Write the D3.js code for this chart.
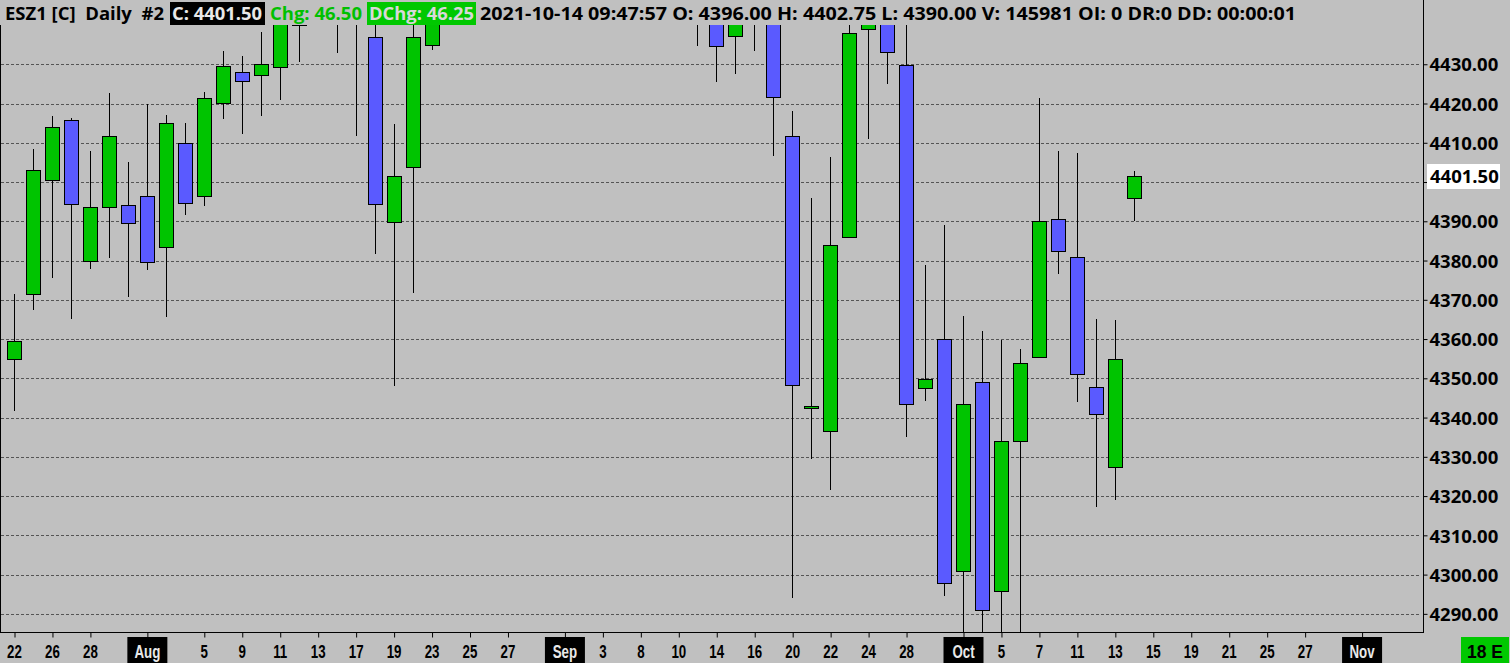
<!DOCTYPE html>
<html>
<head>
<meta charset="utf-8">
<script src="https://cdn.jsdelivr.net/npm/d3@7"></script>
<style>
  html, body { margin: 0; padding: 0; background: #c0c0c0; overflow: hidden; }
  svg { display: block; }
  .hdr { font-family: "Open Sans", "Noto Sans", sans-serif; font-weight: 700; font-size: 18px; white-space: pre; }
  .ylab { font-family: "Open Sans", "Noto Sans", sans-serif; font-weight: 700; font-size: 18.5px; }
  .xlab { font-family: "Liberation Sans", Arial, sans-serif; font-weight: 700; font-size: 18.5px; }
</style>
</head>
<body>
<svg id="chart" width="1510" height="663"></svg>
<script>
// trading days shown on the time axis (ESZ1 daily)
const dates = [
  "2021-07-22", "2021-07-23", "2021-07-26", "2021-07-27", "2021-07-28", "2021-07-29", "2021-07-30",
  "2021-08-02", "2021-08-03", "2021-08-04", "2021-08-05", "2021-08-06", "2021-08-09", "2021-08-10",
  "2021-08-11", "2021-08-12", "2021-08-13", "2021-08-16", "2021-08-17", "2021-08-18", "2021-08-19",
  "2021-08-20", "2021-08-23", "2021-08-24", "2021-08-25", "2021-08-26", "2021-08-27", "2021-08-30",
  "2021-08-31", "2021-09-01", "2021-09-02", "2021-09-03", "2021-09-07", "2021-09-08", "2021-09-09",
  "2021-09-10", "2021-09-13", "2021-09-14", "2021-09-15", "2021-09-16", "2021-09-17", "2021-09-20",
  "2021-09-21", "2021-09-22", "2021-09-23", "2021-09-24", "2021-09-27", "2021-09-28", "2021-09-29",
  "2021-09-30", "2021-10-01", "2021-10-04", "2021-10-05", "2021-10-06", "2021-10-07", "2021-10-08",
  "2021-10-11", "2021-10-12", "2021-10-13", "2021-10-14", "2021-10-15", "2021-10-18", "2021-10-19",
  "2021-10-20", "2021-10-21", "2021-10-22", "2021-10-25", "2021-10-26", "2021-10-27", "2021-10-28",
  "2021-10-29", "2021-11-01", "2021-11-02", "2021-11-03", "2021-11-04"
];

// OHLC, one value per bar from 2021-07-22 to 2021-10-14
const opens = [
  4355.0, 4371.5, 4400.5, 4415.75, 4380.0, 4393.75, 4394.25, 4396.5, 4383.5, 4410.0,
  4396.5, 4420.25, 4428.0, 4427.25, 4429.25, 4440.0, 4451.0, 4458.0, 4466.0, 4437.0,
  4389.75, 4403.75, 4435.0, 4469.0, 4474.0, 4484.0, 4459.0, 4498.0, 4520.0, 4516.0,
  4517.0, 4527.0, 4529.0, 4515.0, 4510.0, 4487.0, 4452.0, 4456.0, 4437.25, 4462.0,
  4458.0, 4411.75, 4342.5, 4336.5, 4386.0, 4439.0, 4444.0, 4429.75, 4347.5, 4360.0,
  4301.0, 4349.0, 4295.75, 4334.0, 4355.5, 4390.5, 4381.0, 4347.75, 4327.5, 4396.0
];
const highs = [
  4371.5, 4408.5, 4416.75, 4416.25, 4408.0, 4422.75, 4405.0, 4420.0, 4417.0, 4415.0,
  4423.0, 4433.5, 4432.0, 4438.25, 4446.0, 4453.0, 4459.0, 4468.0, 4467.0, 4447.0,
  4414.75, 4442.0, 4472.0, 4480.0, 4486.0, 4487.0, 4503.0, 4525.0, 4527.0, 4532.0,
  4535.0, 4537.0, 4540.0, 4518.0, 4520.0, 4508.0, 4475.0, 4468.0, 4466.0, 4468.0,
  4460.0, 4418.0, 4396.0, 4406.5, 4442.0, 4446.0, 4452.0, 4442.0, 4378.75, 4389.0,
  4365.75, 4362.0, 4359.75, 4357.5, 4421.5, 4408.0, 4407.5, 4365.0, 4364.75, 4402.75
];
const lows = [
  4341.75, 4367.5, 4375.5, 4365.0, 4377.75, 4380.75, 4370.75, 4377.5, 4365.5, 4391.5,
  4394.0, 4416.0, 4412.25, 4416.75, 4421.0, 4430.5, 4446.0, 4432.75, 4411.75, 4381.75,
  4348.0, 4371.75, 4433.75, 4462.0, 4468.0, 4455.0, 4452.0, 4495.0, 4510.0, 4512.0,
  4513.0, 4514.0, 4510.0, 4492.0, 4484.0, 4450.0, 4434.75, 4425.5, 4427.5, 4433.5,
  4406.75, 4294.0, 4329.5, 4321.5, 4386.0, 4411.0, 4425.0, 4335.0, 4344.25, 4294.5,
  4280.0, 4283.0, 4280.0, 4281.0, 4355.25, 4376.5, 4344.0, 4317.25, 4319.0, 4390.0
];
const closes = [
  4359.5, 4403.0, 4414.0, 4394.5, 4393.75, 4411.75, 4389.5, 4379.75, 4415.0, 4394.75,
  4421.5, 4429.5, 4425.75, 4430.0, 4443.0, 4451.0, 4458.0, 4466.0, 4441.0, 4394.5,
  4401.5, 4437.0, 4469.0, 4474.0, 4484.0, 4458.0, 4498.0, 4520.0, 4516.0, 4517.0,
  4527.0, 4529.0, 4516.0, 4510.0, 4486.0, 4452.0, 4455.0, 4434.75, 4463.0, 4459.0,
  4421.75, 4348.25, 4343.0, 4384.0, 4438.0, 4443.0, 4433.0, 4343.5, 4349.75, 4297.75,
  4343.5, 4291.0, 4334.0, 4354.0, 4390.0, 4382.5, 4351.0, 4341.0, 4355.0, 4401.5
];

// axis ticks
const yTicks = [4290, 4300, 4310, 4320, 4330, 4340, 4350, 4360, 4370, 4380, 4390, 4400, 4410, 4420, 4430];
const xTickDates = [
  "2021-07-22", "2021-07-26", "2021-07-28", "2021-08-02", "2021-08-05", "2021-08-09", "2021-08-11",
  "2021-08-13", "2021-08-17", "2021-08-19", "2021-08-23", "2021-08-25", "2021-08-27", "2021-09-01",
  "2021-09-03", "2021-09-08", "2021-09-10", "2021-09-14", "2021-09-16", "2021-09-20", "2021-09-22",
  "2021-09-24", "2021-09-28", "2021-10-01", "2021-10-05", "2021-10-07", "2021-10-11", "2021-10-13",
  "2021-10-15", "2021-10-19", "2021-10-21", "2021-10-25", "2021-10-27", "2021-11-01"
];
const xTickLabels = [
  "22", "26", "28", "Aug", "5", "9", "11", "13", "17", "19", "23", "25", "27", "Sep",
  "3", "8", "10", "14", "16", "20", "22", "24", "28", "Oct", "5", "7", "11", "13",
  "15", "19", "21", "25", "27", "Nov"
];

// header line pieces
const symbolText = "ESZ1 [C]  Daily  #2";
const closeText = "C: 4401.50";
const chgText = "Chg: 46.50";
const dchgText = "DChg: 46.25";
const infoText = "2021-10-14 09:47:57 O: 4396.00 H: 4402.75 L: 4390.00 V: 145981 OI: 0 DR:0 DD: 00:00:01";
const lastPrice = 4401.5;
const timerText = "18 E";

const upColor = "#00c400";
const downColor = "#5a5aff";

const svg = d3.select("#chart");
const plot = { left: 0, right: 1423, top: 25, bottom: 632.5 };

const x = d3.scalePoint().domain(dates).range([14, 14 + 18.98 * (dates.length - 1)]);
const y = d3.scaleLinear().domain([4285.25, 4440]).range([plot.bottom, plot.top]);

const bars = opens.map((o, i) => ({
  date: dates[i], open: o, high: highs[i], low: lows[i], close: closes[i]
}));

svg.append("defs").append("clipPath").attr("id", "plotClip")
  .append("rect")
  .attr("x", plot.left).attr("y", plot.top)
  .attr("width", plot.right - plot.left).attr("height", plot.bottom - plot.top);

// dashed price grid
svg.append("g")
  .selectAll("line")
  .data(yTicks)
  .join("line")
  .attr("x1", 1).attr("x2", plot.right - 2)
  .attr("y1", (d) => Math.round(y(d)) + 0.5)
  .attr("y2", (d) => Math.round(y(d)) + 0.5)
  .attr("stroke", "#555")
  .attr("stroke-dasharray", "3,2")
  .attr("shape-rendering", "crispEdges");

// candles
const candles = svg.append("g").attr("clip-path", "url(#plotClip)")
  .selectAll("g")
  .data(bars)
  .join("g")
  .attr("shape-rendering", "crispEdges");

candles.append("line")
  .attr("x1", (d) => Math.round(x(d.date)) + 0.5)
  .attr("x2", (d) => Math.round(x(d.date)) + 0.5)
  .attr("y1", (d) => y(d.high))
  .attr("y2", (d) => y(d.low))
  .attr("stroke", "#000");

candles.append("rect")
  .attr("x", (d) => Math.round(x(d.date)) - 6.5)
  .attr("width", 14)
  .attr("y", (d) => Math.round(y(Math.max(d.open, d.close))) + 0.5)
  .attr("height", (d) => Math.max(1, Math.round(y(Math.min(d.open, d.close))) - Math.round(y(Math.max(d.open, d.close)))))
  .attr("fill", (d) => (d.close >= d.open ? upColor : downColor))
  .attr("stroke", "#000");

// frame
svg.append("line").attr("x1", 0.5).attr("x2", 0.5).attr("y1", plot.top).attr("y2", plot.bottom)
  .attr("stroke", "#000");
svg.append("line").attr("x1", plot.right + 0.5).attr("x2", plot.right + 0.5).attr("y1", 0).attr("y2", plot.bottom + 0.5)
  .attr("stroke", "#000");
svg.append("line").attr("x1", 0).attr("x2", plot.right + 1).attr("y1", plot.bottom).attr("y2", plot.bottom)
  .attr("stroke", "#000");

// price scale on the right
const yAxis = svg.append("g")
  .attr("transform", `translate(${plot.right + 0.5},0)`)
  .call(d3.axisRight(y).tickValues(yTicks).tickSize(4).tickPadding(2).tickFormat(d3.format(".2f")));
yAxis.select(".domain").remove();
yAxis.selectAll(".tick line").attr("stroke", "#000");
yAxis.selectAll(".tick text")
  .attr("class", "ylab")
  .attr("fill", "#000")
  .attr("dy", "0.36em");
// the last price marker covers the label it sits on
yAxis.selectAll(".tick text").filter((d) => Math.abs(d - lastPrice) < 6).remove();

// last price marker
const lastY = y(lastPrice);
svg.append("rect")
  .attr("x", 1427).attr("y", Math.round(lastY) - 12)
  .attr("width", 73).attr("height", 25)
  .attr("fill", "#fff");
svg.append("text")
  .attr("class", "ylab")
  .attr("x", 1430).attr("y", lastY).attr("dy", "0.36em")
  .text(d3.format(".2f")(lastPrice));

// time scale
const xAxis = svg.append("g")
  .attr("transform", `translate(0,${plot.bottom})`)
  .call(d3.axisBottom(x).tickValues(xTickDates).tickSize(5).tickFormat((d, i) => xTickLabels[i]));
xAxis.select(".domain").remove();
xAxis.selectAll(".tick line").attr("stroke", "#000").attr("transform", "translate(0.5,0)");
xAxis.selectAll(".tick").each(function (d, i) {
  const g = d3.select(this);
  const isMonth = isNaN(+xTickLabels[i]);
  if (isMonth) {
    g.insert("rect", "text")
      .attr("x", -20).attr("y", 4.5).attr("width", 40).attr("height", 26)
      .attr("fill", "#000");
  }
  g.select("text")
    .attr("class", "xlab")
    .attr("y", 25.5).attr("dy", null)
    .attr("transform", "scale(0.72,1)")
    .attr("fill", isMonth ? "#e8e8e8" : "#000");
});

// bar timer box, lower right
svg.append("rect").attr("x", 1461).attr("y", 637).attr("width", 48).attr("height", 26).attr("fill", "#00c800");
svg.append("text")
  .attr("class", "xlab")
  .attr("x", 1467).attr("y", 658)
  .attr("textLength", 36).attr("lengthAdjust", "spacingAndGlyphs")
  .text(timerText);

// header line; widths taken from the reference so the pieces line up
const hdr = svg.append("g");
hdr.append("rect").attr("x", 170).attr("y", 2).attr("width", 95).attr("height", 23).attr("fill", "#000");
hdr.append("rect").attr("x", 367).attr("y", 2).attr("width", 109).attr("height", 23).attr("fill", "#00c800");
const hdrText = (txt, x0, w, fill) =>
  hdr.append("text").attr("class", "hdr")
    .attr("x", x0).attr("y", 20)
    .attr("textLength", w).attr("lengthAdjust", "spacingAndGlyphs")
    .attr("fill", fill).text(txt);
hdrText(symbolText, 5, 159, "#000");
hdrText(closeText, 172, 90, "#e8e8e8");
hdrText(chgText, 270, 92, "#00c000");
hdrText(dchgText, 369, 105, "#d8d8d8");
hdrText(infoText, 480, 816, "#000");
</script>
</body>
</html>
